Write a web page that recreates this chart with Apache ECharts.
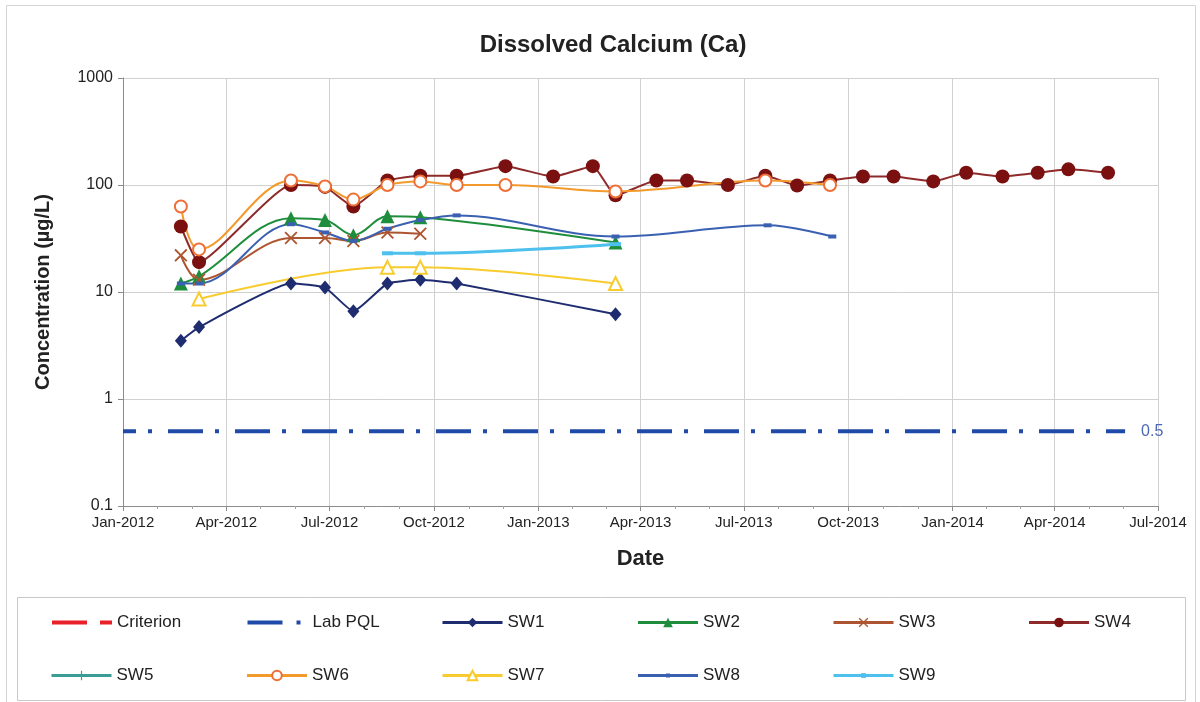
<!DOCTYPE html>
<html>
<head>
<meta charset="utf-8">
<title>Dissolved Calcium (Ca)</title>
<script src="https://cdn.jsdelivr.net/npm/echarts@6/dist/echarts.min.js"></script>
<style>
  html, body { margin: 0; padding: 0; background: #ffffff; }
  #chart { width: 1200px; height: 702px; }
</style>
</head>
<body>
<div id="chart"></div>
<script>
// Sampling dates and measured concentrations (µg/L)
const sw1Dates = ['2012-02-21', '2012-03-08', '2012-05-28', '2012-06-27', '2012-07-22', '2012-08-21', '2012-09-19', '2012-10-21', '2013-03-10'];
const sw1Values = [3.5, 4.7, 12, 11, 6.6, 12, 13, 12, 6.2];

const sw2Dates = ['2012-02-21', '2012-03-08', '2012-05-28', '2012-06-27', '2012-07-22', '2012-08-21', '2012-09-19', '2013-03-10'];
const sw2Values = [12, 14, 49, 47, 34, 51, 50, 29];

const sw3Dates = ['2012-02-21', '2012-03-08', '2012-05-28', '2012-06-27', '2012-07-22', '2012-08-21', '2012-09-19'];
const sw3Values = [22, 13, 32, 32, 30, 36, 35];

const sw4Dates = ['2012-02-21', '2012-03-08', '2012-05-28', '2012-06-27', '2012-07-22', '2012-08-21', '2012-09-19', '2012-10-21',
  '2012-12-03', '2013-01-14', '2013-02-18', '2013-03-10', '2013-04-15', '2013-05-12', '2013-06-17', '2013-07-20',
  '2013-08-17', '2013-09-15', '2013-10-14', '2013-11-10', '2013-12-15', '2014-01-13', '2014-02-14', '2014-03-17',
  '2014-04-13', '2014-05-18'];
const sw4Values = [41, 19, 100, 96, 63, 110, 122, 122, 150, 120, 150, 80, 110, 110, 100, 122, 99, 110, 120, 120, 108, 130, 120, 130, 140, 130];

const sw5Dates = [];
const sw5Values = [];

const sw6Dates = ['2012-02-21', '2012-03-08', '2012-05-28', '2012-06-27', '2012-07-22', '2012-08-21', '2012-09-19', '2012-10-21',
  '2012-12-03', '2013-03-10', '2013-07-20', '2013-09-15'];
const sw6Values = [63, 25, 110, 97, 73, 100, 108, 100, 100, 87, 110, 100];

const sw7Dates = ['2012-03-08', '2012-08-21', '2012-09-19', '2013-03-10'];
const sw7Values = [8.6, 17, 17, 12];

const sw8Dates = ['2012-02-21', '2012-03-08', '2012-05-28', '2012-06-27', '2012-07-22', '2012-08-21', '2012-09-19', '2012-10-21',
  '2013-03-10', '2013-07-22', '2013-09-17'];
const sw8Values = [12, 12, 43, 36, 30, 39, 47, 52, 33, 42, 33];

const sw9Dates = ['2012-08-21', '2012-09-19', '2013-03-10'];
const sw9Values = [23, 23, 28];

// Laboratory practical quantitation limit
const pqlDates = ['2012-01-01', '2014-06-02'];
const pqlValues = [0.5, 0.5];

const criterionDates = [];
const criterionValues = [];

const monthNames = ['Jan', 'Feb', 'Mar', 'Apr', 'May', 'Jun', 'Jul', 'Aug', 'Sep', 'Oct', 'Nov', 'Dec'];
const yTickLabels = ['0.1', '1', '10', '100', '1000'];

function pairs(dates, values) {
  return dates.map((d, i) => [d, values[i]]);
}

const crossPath = 'path://M0,1 L1,0 L5,4 L9,0 L10,1 L6,5 L10,9 L9,10 L5,6 L1,10 L0,9 L4,5 Z';
const plusPath = 'path://M4.4,0 L5.6,0 L5.6,4.4 L10,4.4 L10,5.6 L5.6,5.6 L5.6,10 L4.4,10 L4.4,5.6 L0,5.6 L0,4.4 L4.4,4.4 Z';
const dashPath = 'path://M0,0 L10,0 L10,4 L0,4 Z';

const chart = echarts.init(document.getElementById('chart'), null, { renderer: 'canvas' });

const FONT = 'Liberation Sans, Arial, sans-serif';
const HIDDEN = 'rgba(0,0,0,0)';

function lineSeries(name, dates, values, color, opts) {
  return Object.assign({
    name: name,
    type: 'line',
    data: pairs(dates, values),
    color: color,
    lineStyle: { color: color, width: 2 },
    itemStyle: { color: color },
    smooth: 0.35,
    showSymbol: true,
    z: 3
  }, opts);
}

// One legend block per entry, laid out on a fixed two-row pitch
function legendEntry(name, col, row, extra) {
  const centerY = row === 0 ? 622 : 675;
  return Object.assign({
    data: [name],
    left: 50 + col * 195.5,
    top: centerY - 8,
    padding: 0,
    itemWidth: 60,
    itemHeight: 12,
    selectedMode: false,
    lineStyle: { width: 3 },
    textStyle: { fontFamily: FONT, fontSize: 17, color: '#222' }
  }, extra || {});
}

const option = {
  backgroundColor: '#ffffff',
  animation: false,
  title: {
    text: 'Dissolved Calcium (Ca)',
    left: 608,
    top: 28,
    textAlign: 'center',
    textStyle: { fontFamily: FONT, fontSize: 24, fontWeight: 'bold', color: '#222' }
  },
  graphic: [
    { type: 'rect', shape: { x: 6.5, y: 5.5, width: 1189, height: 700 }, style: { fill: 'none', stroke: '#d4d4d4', lineWidth: 1 }, z: -10, silent: true },
    { type: 'rect', shape: { x: 17.5, y: 597.5, width: 1168, height: 103 }, style: { fill: 'none', stroke: '#c8c8c8', lineWidth: 1 }, z: -10, silent: true }
  ],
  legend: [
    legendEntry('Criterion', 0, 0, { lineStyle: { width: 4, type: [35, 13, 12, 13] } }),
    legendEntry('Lab PQL', 1, 0, { lineStyle: { width: 4, type: [35, 14, 4, 20], dashOffset: 0 } }),
    legendEntry('SW1', 2, 0),
    legendEntry('SW2', 3, 0),
    legendEntry('SW3', 4, 0),
    legendEntry('SW4', 5, 0),
    legendEntry('SW5', 0, 1),
    legendEntry('SW6', 1, 1),
    legendEntry('SW7', 2, 1),
    legendEntry('SW8', 3, 1, { itemHeight: 5 }),
    legendEntry('SW9', 4, 1, { itemHeight: 6 })
  ],
  grid: { left: 123, right: 42, top: 78, bottom: 196, containLabel: false },
  xAxis: {
    type: 'time',
    min: '2012-01-01',
    max: '2014-07-01',
    splitNumber: 10,
    name: 'Date',
    nameLocation: 'middle',
    nameGap: 42,
    nameTextStyle: { fontFamily: FONT, fontSize: 22, fontWeight: 'bold', color: '#222' },
    axisLine: { show: true, lineStyle: { color: '#8c8c8c', width: 1 } },
    axisTick: { show: true, length: 5, lineStyle: { color: '#8c8c8c' } },
    minorTick: { show: true, splitNumber: 3, length: 3, lineStyle: { color: '#a0a0a0' } },
    splitLine: { show: true, lineStyle: { color: '#d0d0d0', width: 1 } },
    axisLabel: {
      fontFamily: FONT, fontSize: 15, color: '#222', margin: 9,
      showMinLabel: true, showMaxLabel: true,
      formatter: function (v) {
        const d = new Date(v);
        return monthNames[d.getMonth()] + '-' + d.getFullYear();
      }
    }
  },
  yAxis: {
    type: 'log',
    logBase: 10,
    min: 0.1,
    max: 1000,
    name: 'Concentration (µg/L)',
    nameLocation: 'middle',
    nameGap: 70,
    nameRotate: 90,
    nameTextStyle: { fontFamily: FONT, fontSize: 20, fontWeight: 'bold', color: '#222' },
    axisLine: { show: true, lineStyle: { color: '#8c8c8c', width: 1 } },
    axisTick: { show: true, length: 5, lineStyle: { color: '#8c8c8c' } },
    splitLine: { show: true, lineStyle: { color: '#d0d0d0', width: 1 } },
    axisLabel: {
      fontFamily: FONT, fontSize: 16, color: '#222', margin: 10,
      formatter: function (v) {
        const i = Math.round(Math.log10(v)) + 1;
        return yTickLabels[i] !== undefined ? yTickLabels[i] : String(v);
      }
    }
  },
  series: [
    lineSeries('Criterion', criterionDates, criterionValues, '#e8202a', {
      lineStyle: { color: '#e8202a', width: 3, type: [34, 12, 12, 12] },
      itemStyle: { color: HIDDEN },
      symbol: 'circle', showSymbol: false
    }),
    lineSeries('Lab PQL', pqlDates, pqlValues, '#1f4aa8', {
      smooth: false,
      lineStyle: { color: '#1f4aa8', width: 4, type: [35, 12, 4, 16], dashOffset: 22 },
      itemStyle: { color: HIDDEN },
      symbol: 'circle', showSymbol: false,
      endLabel: {
        show: true,
        formatter: '0.5',
        color: '#4a68b5',
        fontFamily: FONT,
        fontSize: 16,
        distance: 16
      }
    }),
    lineSeries('SW1', sw1Dates, sw1Values, '#1f2d70', {
      smooth: 0.15,
      symbol: 'diamond', symbolSize: [12, 14]
    }),
    lineSeries('SW2', sw2Dates, sw2Values, '#1f8e3c', {
      symbol: 'triangle', symbolSize: 14
    }),
    lineSeries('SW3', sw3Dates, sw3Values, '#ad5530', {
      symbol: crossPath, symbolSize: 13
    }),
    lineSeries('SW4', sw4Dates, sw4Values, '#7d1212', {
      smooth: 0.15,
      lineStyle: { color: '#8e2a2a', width: 2 },
      itemStyle: { color: '#7a1010' },
      symbol: 'circle', symbolSize: 14
    }),
    lineSeries('SW5', sw5Dates, sw5Values, '#3a9c95', {
      symbol: plusPath, symbolSize: 12
    }),
    lineSeries('SW6', sw6Dates, sw6Values, '#f39a2d', {
      symbol: 'emptyCircle', symbolSize: 12,
      itemStyle: { color: '#ee6f36', borderWidth: 2 }
    }),
    lineSeries('SW7', sw7Dates, sw7Values, '#f8cc2e', {
      symbol: 'emptyTriangle', symbolSize: 13,
      itemStyle: { color: '#f8cc2e', borderWidth: 2 }
    }),
    lineSeries('SW8', sw8Dates, sw8Values, '#3a60b2', {
      symbol: dashPath, symbolSize: [8, 4], symbolKeepAspect: false
    }),
    lineSeries('SW9', sw9Dates, sw9Values, '#4ec0ee', {
      lineStyle: { color: '#4ec0ee', width: 3 },
      symbol: dashPath, symbolSize: [11, 4], symbolKeepAspect: false
    })
  ]
};

chart.setOption(option);
</script>
</body>
</html>
